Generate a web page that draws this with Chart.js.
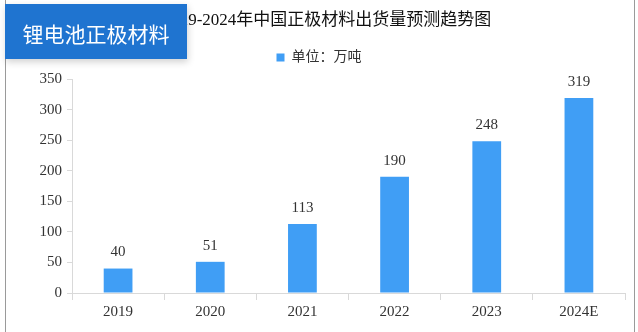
<!DOCTYPE html>
<html>
<head>
<meta charset="utf-8">
<script src="https://cdn.jsdelivr.net/npm/chart.js@4/dist/chart.umd.min.js"></script>
<style>
  html, body { margin: 0; padding: 0; background: #ffffff; }
  #wrap { position: relative; width: 638px; height: 332px; overflow: hidden; background: #fff; }
  #c { position: absolute; left: 0; top: 0; }
  .vline { position: absolute; top: 0; width: 1px; height: 332px; background: #9a9a9a; }
  #tag {
    position: absolute; left: 5px; top: 4px; width: 182px; height: 55px;
    background: #1f74d0; color: #fff;
    font-family: "Noto Sans CJK SC", "Noto Sans", sans-serif; font-size: 21px;
    display: flex; align-items: center; justify-content: center;
    padding-top: 2px; box-sizing: border-box;
    box-shadow: 1px 3px 7px rgba(0,0,0,0.18);
  }
</style>
</head>
<body>
<div id="wrap">
  <canvas id="c" width="638" height="332"></canvas>
  <div class="vline" style="left:5px"></div>
  <div class="vline" style="left:634px"></div>
  <div id="tag">锂电池正极材料</div>
</div>
<script>
const categories = ["2019", "2020", "2021", "2022", "2023", "2024E"];
const shipments = [40, 51, 113, 190, 248, 319];
const seriesLabel = "单位：万吨";
const chartTitle = "2019-2024年中国正极材料出货量预测趋势图";
const yTicks = [0, 50, 100, 150, 200, 250, 300, 350];

const serif = '"Liberation Serif", "DejaVu Serif", "Noto Sans CJK SC", serif';

const valueLabels = {
  id: 'valueLabels',
  afterDatasetsDraw(chart) {
    const ctx = chart.ctx;
    ctx.save();
    ctx.font = '15px ' + serif;
    ctx.fillStyle = '#333333';
    ctx.textAlign = 'center';
    ctx.textBaseline = 'middle';
    chart.data.datasets.forEach((ds, di) => {
      chart.getDatasetMeta(di).data.forEach((bar, i) => {
        ctx.fillText(String(ds.data[i]), bar.x, bar.y - 16);
      });
    });
    ctx.restore();
  }
};

// shift the title block slightly right, as in the reference
const titleShift = {
  id: 'titleShift',
  afterLayout(chart) {
    if (chart.titleBlock) { chart.titleBlock.left += 16; }
  }
};

new Chart(document.getElementById('c'), {
  type: 'bar',
  data: {
    labels: categories,
    datasets: [{
      label: seriesLabel,
      data: shipments,
      backgroundColor: '#409ef5',
      borderWidth: 0,
      barPercentage: 0.312,
      categoryPercentage: 1.0
    }]
  },
  options: {
    responsive: false,
    animation: false,
    devicePixelRatio: 1,
    layout: { padding: { left: 13, right: 13, top: 0, bottom: 0 } },
    plugins: {
      title: {
        display: true,
        text: chartTitle,
        color: '#111111',
        font: { family: serif, size: 17, weight: 'normal', lineHeight: 1.2 },
        padding: { top: 10, bottom: 10 }
      },
      subtitle: {
        display: true,
        text: '',
        weight: 500,
        font: { size: 1, lineHeight: 0 },
        padding: { top: 4.6, bottom: 0 }
      },
      legend: {
        display: true,
        position: 'top',
        labels: {
          boxWidth: 8,
          boxHeight: 8,
          padding: 10,
          color: '#333333',
          font: { family: serif, size: 14 }
        }
      },
      tooltip: { enabled: false }
    },
    scales: {
      x: {
        grid: { display: true, drawOnChartArea: false, drawTicks: true, tickLength: 7, color: '#d9d9d9', offset: true },
        border: { display: true, color: '#d9d9d9' },
        ticks: { color: '#333333', padding: 3, font: { family: serif, size: 15 } },
        afterFit(scale) { scale.height = 39; }
      },
      y: {
        min: 0,
        max: 350,
        afterBuildTicks(scale) { scale.ticks = yTicks.map(v => ({ value: v })); },
        grid: { display: true, drawOnChartArea: false, drawTicks: true, tickLength: 5, color: '#d9d9d9' },
        border: { display: true, color: '#d9d9d9' },
        ticks: { color: '#333333', padding: 5, font: { family: serif, size: 15 } },
        afterFit(scale) { scale.width = 59; }
      }
    }
  },
  plugins: [valueLabels, titleShift]
});
</script>
</body>
</html>
